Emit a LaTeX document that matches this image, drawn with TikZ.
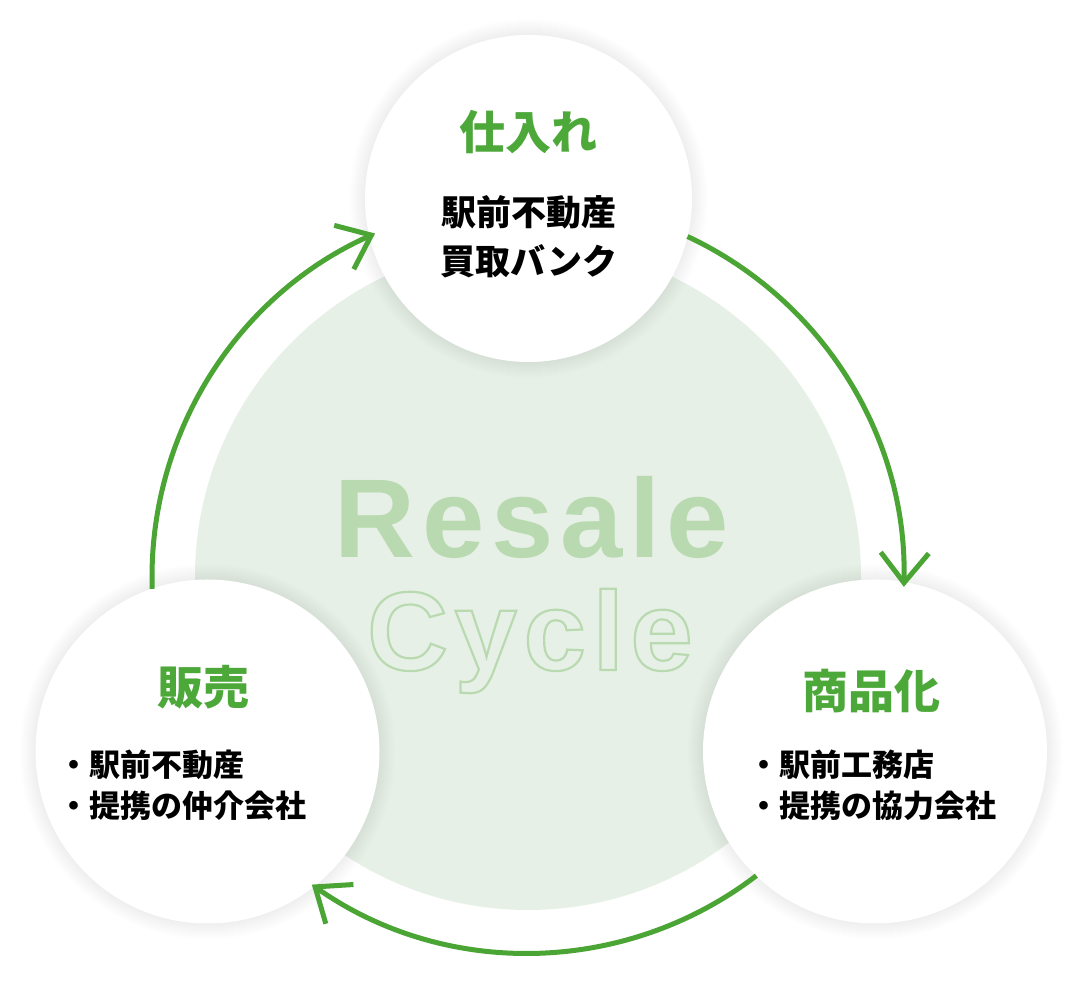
\documentclass[tikz,border=0pt]{standalone}
\usepackage{fontspec}
\usetikzlibrary{arrows.meta,calc}
\newfontfamily\jp{Noto Sans CJK JP}
\newfontfamily\resfont{Liberation Sans}[LetterSpace=6]
\definecolor{arrowgreen}{HTML}{4BA534}
\definecolor{titlegreen}{HTML}{4DA83A}
\definecolor{resalefill}{HTML}{B9DAB0}
\definecolor{bgcircle}{HTML}{E7F0E6}
\begin{document}
\begin{tikzpicture}[x=1pt,y=1pt,
  cyclearc/.style={line width=5pt, draw=arrowgreen, line cap=butt,
    -{Straight Barb[length=30pt,width=48pt]}},
  ttl/.style={font=\jp\bfseries\fontsize{46}{50}\selectfont, text=titlegreen, inner sep=0},
  toptxt/.style={font=\jp\bfseries\fontsize{35}{49}\selectfont, align=center, inner sep=0},
  bultxt/.style={font=\jp\bfseries\fontsize{31}{41}\selectfont, align=left, inner sep=0},
  whitecirc/.style={circle, fill=white, inner sep=0},
  bigword/.style={anchor=base, inner sep=0, text=resalefill,
    font=\resfont\bfseries\fontsize{112}{120}\selectfont}
]
\useasboundingbox (0,0) rectangle (1082,992);
\fill[white] (0,0) rectangle (1082,992);
\coordinate (C) at (528,415);
\fill[bgcircle] (C) circle[radius=333];

% soft shadows
\foreach \cx/\cy/\r in {528.5/793.5/163.5, 207.5/240.5/172, 875/240.5/172}{
  \foreach \k in {1,...,16}{
    \fill[black, opacity=0.0035] (\cx,\cy) circle[radius=\r+\k];
  }
}

\node[whitecirc, minimum size=327pt] (top) at (528.5,793.5) {};
\node[whitecirc, minimum size=344pt] (left) at (207.5,240.5) {};
\node[whitecirc, minimum size=344pt] (right) at (875,240.5) {};

% center text
\node[bigword] (resale) at (532,434) {Resale};
\node[bigword] (cycle) at (530,322)
  {\special{pdf:literal direct 1 Tr 2.2 w}Cycle\special{pdf:literal direct 0 Tr}};

% labels
\node[ttl] (toptitle) at (528,859.5) {仕入れ};
\node[toptxt] (toptext) at (529,755) {駅前不動産\\買取バンク};
\node[ttl] (lefttitle) at (203,304.5) {販売};
\node[bultxt] (lefttext) at (182.5,206.5) {・駅前不動産\\・提携の仲介会社};
\node[ttl] (righttitle) at (871,301) {商品化};
\node[bultxt] (righttext) at (872,206.5) {・駅前工務店\\・提携の協力会社};

% cycle arrows
\coordinate (a1s) at ($(C)+(64.9:376)$);
\coordinate (a2s) at ($(C)+(-52.6:376)$);
\coordinate (a3s) at ($(C)+(181.8:376)$);
\draw[cyclearc] (a1s) arc[start angle=64.9, end angle=-1.5, radius=376];
\draw[cyclearc] (a2s) arc[start angle=-52.6, end angle=-125.1, radius=376];
\draw[cyclearc] (a3s) arc[start angle=181.8, end angle=114, radius=376];
\end{tikzpicture}
\end{document}
